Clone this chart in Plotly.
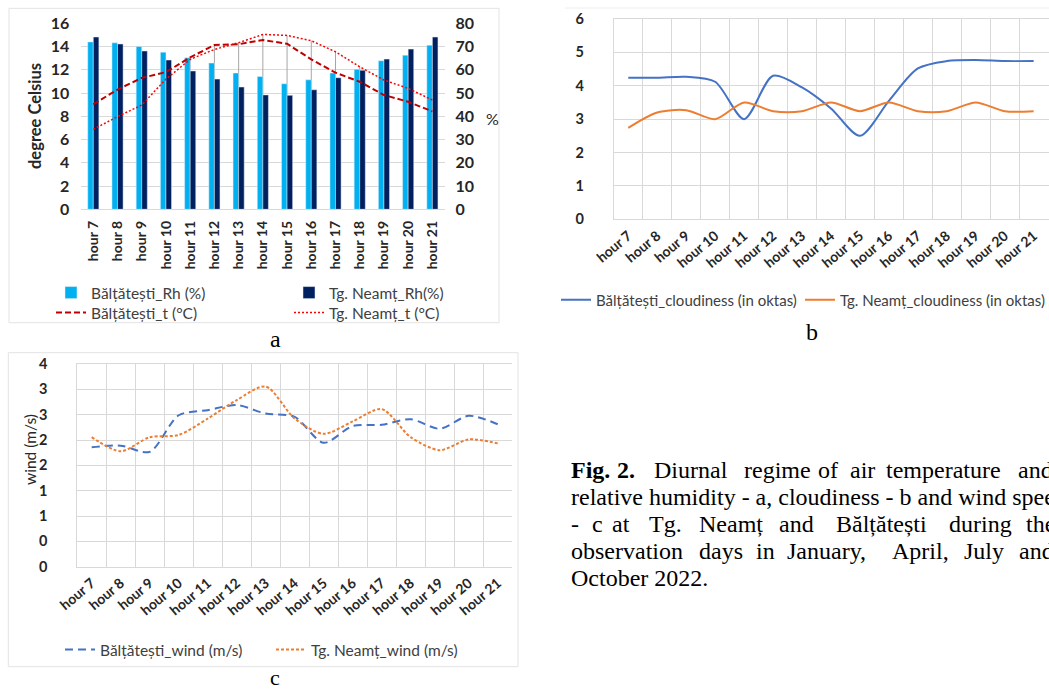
import plotly.graph_objects as go

W, H = 1049, 692

# ---------------- data ----------------
hours = ["hour 7", "hour 8", "hour 9", "hour 10", "hour 11", "hour 12", "hour 13", "hour 14",
         "hour 15", "hour 16", "hour 17", "hour 18", "hour 19", "hour 20", "hour 21"]

# chart a
balt_rh = [72.0, 71.6, 70.0, 67.6, 65.2, 62.9, 58.6, 57.1, 54.0, 55.7, 58.6, 60.2, 63.9, 66.3, 70.6]
neamt_rh = [74.1, 71.1, 68.1, 64.2, 59.5, 56.0, 52.6, 49.2, 49.0, 51.4, 56.6, 59.8, 64.6, 68.9, 74.1]
balt_t = [9.03, 10.3, 11.3, 11.8, 13.07, 14.13, 14.2, 14.56, 14.24, 12.9, 11.75, 10.97, 9.83, 9.25, 8.42]
neamt_t = [6.88, 7.97, 8.97, 11.2, 12.9, 13.75, 14.33, 15.04, 14.96, 14.5, 13.55, 12.26, 11.12, 10.4, 9.4]

# chart b
balt_cloud = [4.24, 4.24, 4.27, 4.12, 3.0, 4.3, 3.95, 3.32, 2.5, 3.55, 4.52, 4.74, 4.77, 4.74, 4.74]
neamt_cloud = [2.74, 3.2, 3.27, 3.0, 3.5, 3.24, 3.24, 3.5, 3.24, 3.5, 3.24, 3.24, 3.5, 3.24, 3.24]

# chart c
balt_wind = [2.12, 2.15, 2.04, 2.69, 2.78, 2.87, 2.72, 2.66, 2.20, 2.50, 2.52, 2.62, 2.45, 2.68, 2.53]
neamt_wind = [2.30, 2.05, 2.30, 2.34, 2.63, 2.96, 3.20, 2.63, 2.36, 2.58, 2.80, 2.30, 2.07, 2.26, 2.19]
wind_tickvals = [0, 0.45, 0.9, 1.35, 1.8, 2.25, 2.7, 3.15, 3.6]
wind_ticktext = ["0", "0", "1", "1", "2", "2", "3", "3", "4"]


def px(x):
    return x / W


def py(y):
    return 1 - y / H


XTICKFONT = dict(family="Lato", size=14, color="#262626", weight="bold")
YTICKFONT_A = dict(family="Lato", size=16, color="#262626", weight="bold")
YTICKFONT = dict(family="Lato", size=14.5, color="#262626", weight="bold")
GRID = "#D9D9D9"

fig = go.Figure()

# ---------- chart a ----------
drop_x, drop_y = [], []
for h, t1, t2 in zip(hours, balt_t, neamt_t):
    drop_x += [h, h, None]
    drop_y += [0, max(t1, t2), None]
fig.add_trace(go.Scatter(x=drop_x, y=drop_y, mode="lines", line=dict(color="#A6A6A6", width=1),
                         xaxis="x", yaxis="y", showlegend=False, hoverinfo="skip"))
fig.add_trace(go.Bar(x=hours, y=balt_rh, name="Bălțătești_Rh (%)", marker_color="#00B0F0",
                     xaxis="x", yaxis="y2", legend="legend"))
fig.add_trace(go.Bar(x=hours, y=neamt_rh, name="Tg. Neamț_Rh(%)", marker_color="#002060",
                     xaxis="x", yaxis="y2", legend="legend2"))
fig.add_trace(go.Scatter(x=hours, y=balt_t, name="Bălțătești_t (°C)", mode="lines",
                         line=dict(color="#C00000", width=2, dash="6px,3px"),
                         xaxis="x", yaxis="y3", legend="legend3"))
fig.add_trace(go.Scatter(x=hours, y=neamt_t, name="Tg. Neamț_t (°C)", mode="lines",
                         line=dict(color="#FF0000", width=1.5, dash="2px,2px"),
                         xaxis="x", yaxis="y3", legend="legend4"))

# ---------- chart b ----------
fig.add_trace(go.Scatter(x=hours, y=balt_cloud, name="Bălțătești_cloudiness (in oktas)", mode="lines",
                         line=dict(color="#4472C4", width=2, shape="spline", smoothing=0.8),
                         xaxis="x2", yaxis="y4", legend="legend5"))
fig.add_trace(go.Scatter(x=hours, y=neamt_cloud, name="Tg. Neamț_cloudiness (in oktas)", mode="lines",
                         line=dict(color="#ED7D31", width=2, shape="spline", smoothing=0.8),
                         xaxis="x2", yaxis="y4", legend="legend6"))

# ---------- chart c ----------
fig.add_trace(go.Scatter(x=hours, y=balt_wind, name="Bălțătești_wind (m/s)", mode="lines",
                         line=dict(color="#4472C4", width=2, shape="spline", smoothing=0.8, dash="8px,5px"),
                         xaxis="x3", yaxis="y5", legend="legend7"))
fig.add_trace(go.Scatter(x=hours, y=neamt_wind, name="Tg. Neamț_wind (m/s)", mode="lines",
                         line=dict(color="#ED7D31", width=2, shape="spline", smoothing=0.8, dash="3px,2px"),
                         xaxis="x3", yaxis="y5", legend="legend8"))

cat_axis = dict(type="category", categoryorder="array", categoryarray=hours, range=[-0.5, 14.5],
                tickfont=XTICKFONT, ticks="", fixedrange=True, automargin=False)


def leg(text_x, y_center, size=15.5):
    return dict(x=px(text_x - 37), y=py(y_center), xanchor="left", yanchor="middle",
                orientation="h", bgcolor="rgba(0,0,0,0)",
                font=dict(family="Lato", size=size, color="#404040"))


fig.update_layout(
    width=W, height=H,
    margin=dict(l=0, r=0, t=0, b=0, autoexpand=False),
    paper_bgcolor="white", plot_bgcolor="white",
    barmode="group", bargap=0.54, bargroupgap=0,
    showlegend=True,
    # chart a
    xaxis=dict(cat_axis, domain=[px(81.2), px(444.5)], anchor="y", tickangle=-90,
               showgrid=False, showline=True, linecolor=GRID, ticklabelstandoff=5),
    yaxis=dict(domain=[py(209.3), py(23.3)], anchor="x", range=[0, 16], dtick=2, side="left",
               showgrid=True, gridcolor=GRID, zeroline=False, tickfont=YTICKFONT_A,
               ticklabelstandoff=11, automargin=False),
    yaxis2=dict(overlaying="y", anchor="x", side="right", range=[0, 80], dtick=10,
                showgrid=False, zeroline=False, tickfont=YTICKFONT_A, ticklabelstandoff=10,
                automargin=False),
    yaxis3=dict(overlaying="y", anchor="x", range=[0, 16], visible=False, automargin=False),
    # chart b
    xaxis2=dict(cat_axis, domain=[px(613.8), 1.0], anchor="y4", tickangle=-40, range=[-0.5, 14.53],
                showgrid=True, gridcolor=GRID, tickson="boundaries", showline=True, linecolor=GRID,
                mirror=True, ticklabelstandoff=2),
    yaxis4=dict(domain=[py(219.3), py(19)], anchor="x2", range=[0, 6], dtick=1,
                showgrid=True, gridcolor=GRID, zeroline=False, tickfont=YTICKFONT,
                showline=True, linecolor=GRID, ticklabelstandoff=26, automargin=False),
    # chart c
    xaxis3=dict(cat_axis, domain=[px(77.2), px(512.2)], anchor="y5", tickangle=-40,
                showgrid=True, gridcolor=GRID, tickson="boundaries", showline=True, linecolor=GRID,
                mirror=True, ticklabelstandoff=2),
    yaxis5=dict(domain=[py(566.7), py(364)], anchor="x3", range=[0, 3.6],
                tickvals=wind_tickvals, ticktext=wind_ticktext,
                showgrid=True, gridcolor=GRID, zeroline=False, tickfont=YTICKFONT,
                showline=True, linecolor=GRID, ticklabelstandoff=26, automargin=False),
    legend=leg(88, 293),
    legend2=leg(326, 293),
    legend3=leg(88, 313),
    legend4=leg(326, 313),
    legend5=leg(593, 300, 15),
    legend6=leg(837, 300, 15),
    legend7=leg(97, 650),
    legend8=leg(308, 650),
)

shapes = [
    dict(type="rect", xref="paper", yref="paper", x0=px(9), x1=px(499), y0=py(322.7), y1=py(8.3),
         line=dict(color="#E3E3E3", width=1), layer="below"),
    dict(type="rect", xref="paper", yref="paper", x0=px(8.3), x1=px(518), y0=py(666.7), y1=py(352.7),
         line=dict(color="#E3E3E3", width=1), layer="below"),
    dict(type="line", xref="paper", yref="paper", x0=px(565), x1=1.0, y0=py(8), y1=py(8),
         line=dict(color="#EEEEEE", width=1), layer="below"),
]
fig.update_layout(shapes=shapes)

ann = []
ann.append(dict(text="degree Celsius", x=px(35), y=py(116), textangle=-90,
                font=dict(family="Lato", size=16.5, color="#262626", weight="bold")))
ann.append(dict(text="%", x=px(492), y=py(118), font=dict(family="Lato", size=16, color="#262626")))
ann.append(dict(text="wind (m/s)", x=px(30), y=py(450), textangle=-90,
                font=dict(family="Lato", size=15.5, color="#262626")))
serif = dict(family="Liberation Serif", size=24, color="black")
ann.append(dict(text="a", x=px(276), y=py(339), font=serif))
ann.append(dict(text="b", x=px(812), y=py(332), font=serif))
ann.append(dict(text="c", x=px(275), y=0, yanchor="bottom", font=dict(serif, size=22)))

caption = [
    (470, [(569, "<b>Fig.</b>"), (615, "<b>2.</b>"), (652, "Diurnal"), (742, "regime"),
           (816, "of"), (848, "air"), (884, "temperature"), (1016, "and")]),
    (497, [(569, "relative humidity - a, cloudiness - b and wind speed")]),
    (524, [(569, "-"), (590, "c"), (610, "at"), (647, "Tg."), (697, "Neamț"), (777, "and"),
           (834, "Bălțătești"), (947, "during"), (1024, "the")]),
    (551, [(569, "observation"), (697, "days"), (754, "in"), (785, "January,"),
           (890, "April,"), (962, "July"), (1017, "and")]),
    (578, [(569, "October 2022.")]),
]
for yline, words in caption:
    for xw, w in words:
        ann.append(dict(text=w, x=px(xw), y=py(yline), xanchor="left", font=serif))

for a in ann:
    a.setdefault("xref", "paper")
    a.setdefault("yref", "paper")
    a.setdefault("showarrow", False)
    a.setdefault("xanchor", "center")
    a.setdefault("yanchor", "middle")
fig.update_layout(annotations=ann)

fig.write_html("out.html")
